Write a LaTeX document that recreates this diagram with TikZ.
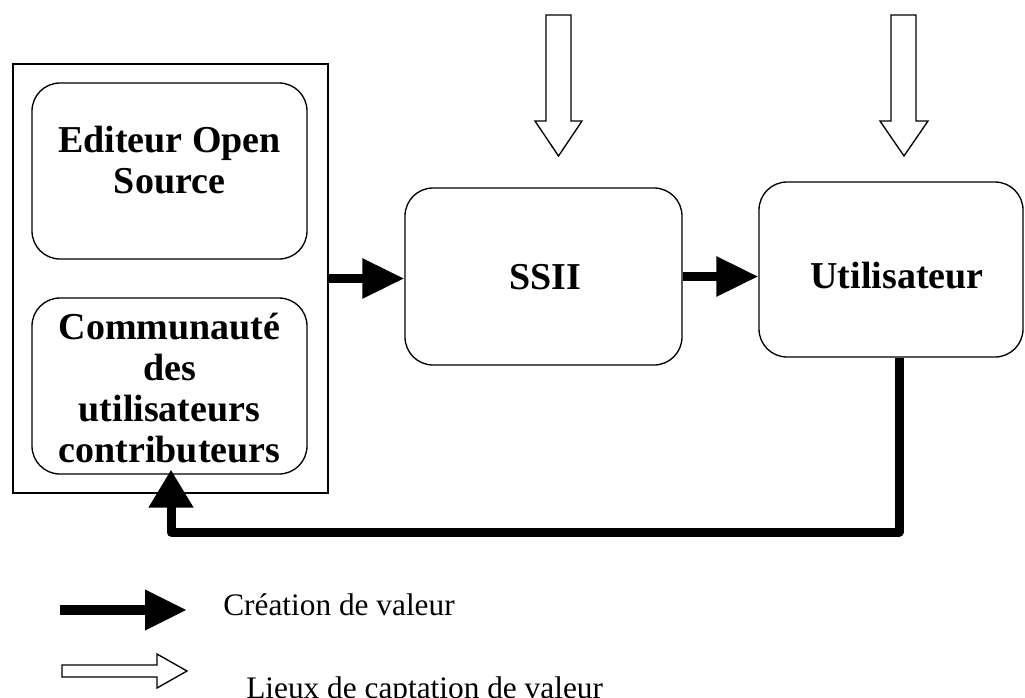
\documentclass[tikz,border=0pt]{standalone}
\usepackage{fontspec}
\setmainfont{Liberation Serif}
\usetikzlibrary{arrows.meta}
\newcommand\pxu{0.75pt}
\begin{document}
\begin{tikzpicture}[x=0.75pt,y=-0.75pt,
  box/.style={draw, line width=1pt, rounded corners=21pt, inner sep=0pt},
  frame/.style={draw, line width=0.9pt, inner sep=0pt},
  btxt/.style={font=\bfseries\fontsize{28.5}{30.75}\selectfont, align=center, inner sep=0pt},
  ltxt/.style={font=\fontsize{23.5}{28}\selectfont, inner sep=0pt, anchor=base west},
  flow/.style={line width=6.75pt, -{Triangle[length=31.5pt,width=28.5pt]}},
  hollow/.style={draw, line width=1pt, fill=white, line join=miter}]
\useasboundingbox (0,0) rectangle (1025,697);
\clip (0,0) rectangle (1025,697);
\fill[white] (0,0) rectangle (1025,697);

% boxes
\node[frame, minimum width=315*\pxu, minimum height=429*\pxu] (outer) at (170.5,278.5) {};
\node[box, minimum width=275*\pxu, minimum height=176*\pxu] (edit) at (169.5,171) {};
\node[box, minimum width=275*\pxu, minimum height=176*\pxu] (comm) at (169.5,386) {};
\node[box, minimum width=277*\pxu, minimum height=177*\pxu] (ssii) at (543.5,276.5) {};
\node[box, minimum width=264*\pxu, minimum height=175*\pxu] (util) at (891,269.5) {};

% texts
\node[btxt] (edittxt) at (169.5,160.5) {Editeur Open\\Source};
\node[btxt] (commtxt) at (169.5,388.5) {Communauté\\des\\utilisateurs\\contributeurs};
\node[btxt] (ssiitxt) at (545,277) {SSII};
\node[btxt] (utiltxt) at (897,275.5) {Utilisateur};

% value creation flows
\draw[flow] (outer.east) -- (outer.east -| ssii.west);
\draw[flow] (ssii.east) -- (ssii.east -| util.west);
\coordinate (fbA) at (899,532);
\coordinate (fbB) at (171,532);
\draw[line width=6.75pt, line join=round, -{Triangle[length=28.5pt,width=32pt]}]
  (util.south -| fbA) -- (fbA) -- (fbB) -- ([yshift=3.75pt]comm.south -| fbB);

% value capture arrows
\draw[hollow] (546,15) -- (571,15) -- (571,121) -- (582,121) -- (558.5,156) -- (535,121) -- (546,121) -- cycle;
\draw[hollow] (891,15) -- (916,15) -- (916,121) -- (928,121) -- (904,156) -- (880,121) -- (891,121) -- cycle;

% legend
\coordinate (lgA) at (60,610);
\coordinate (lgB) at (187,610);
\draw[line width=7.5pt, -{Triangle[length=31.5pt,width=28.5pt]}] (lgA) -- (lgB);
\node[ltxt] (lg1) at (223,615) {Création de valeur};
\draw[hollow] (62,665) -- (157,665) -- (157,654) -- (187,671) -- (157,688) -- (157,677) -- (62,677) -- cycle;
\node[ltxt] (lg2) at (246,698) {Lieux de captation de valeur};
\end{tikzpicture}
\end{document}
